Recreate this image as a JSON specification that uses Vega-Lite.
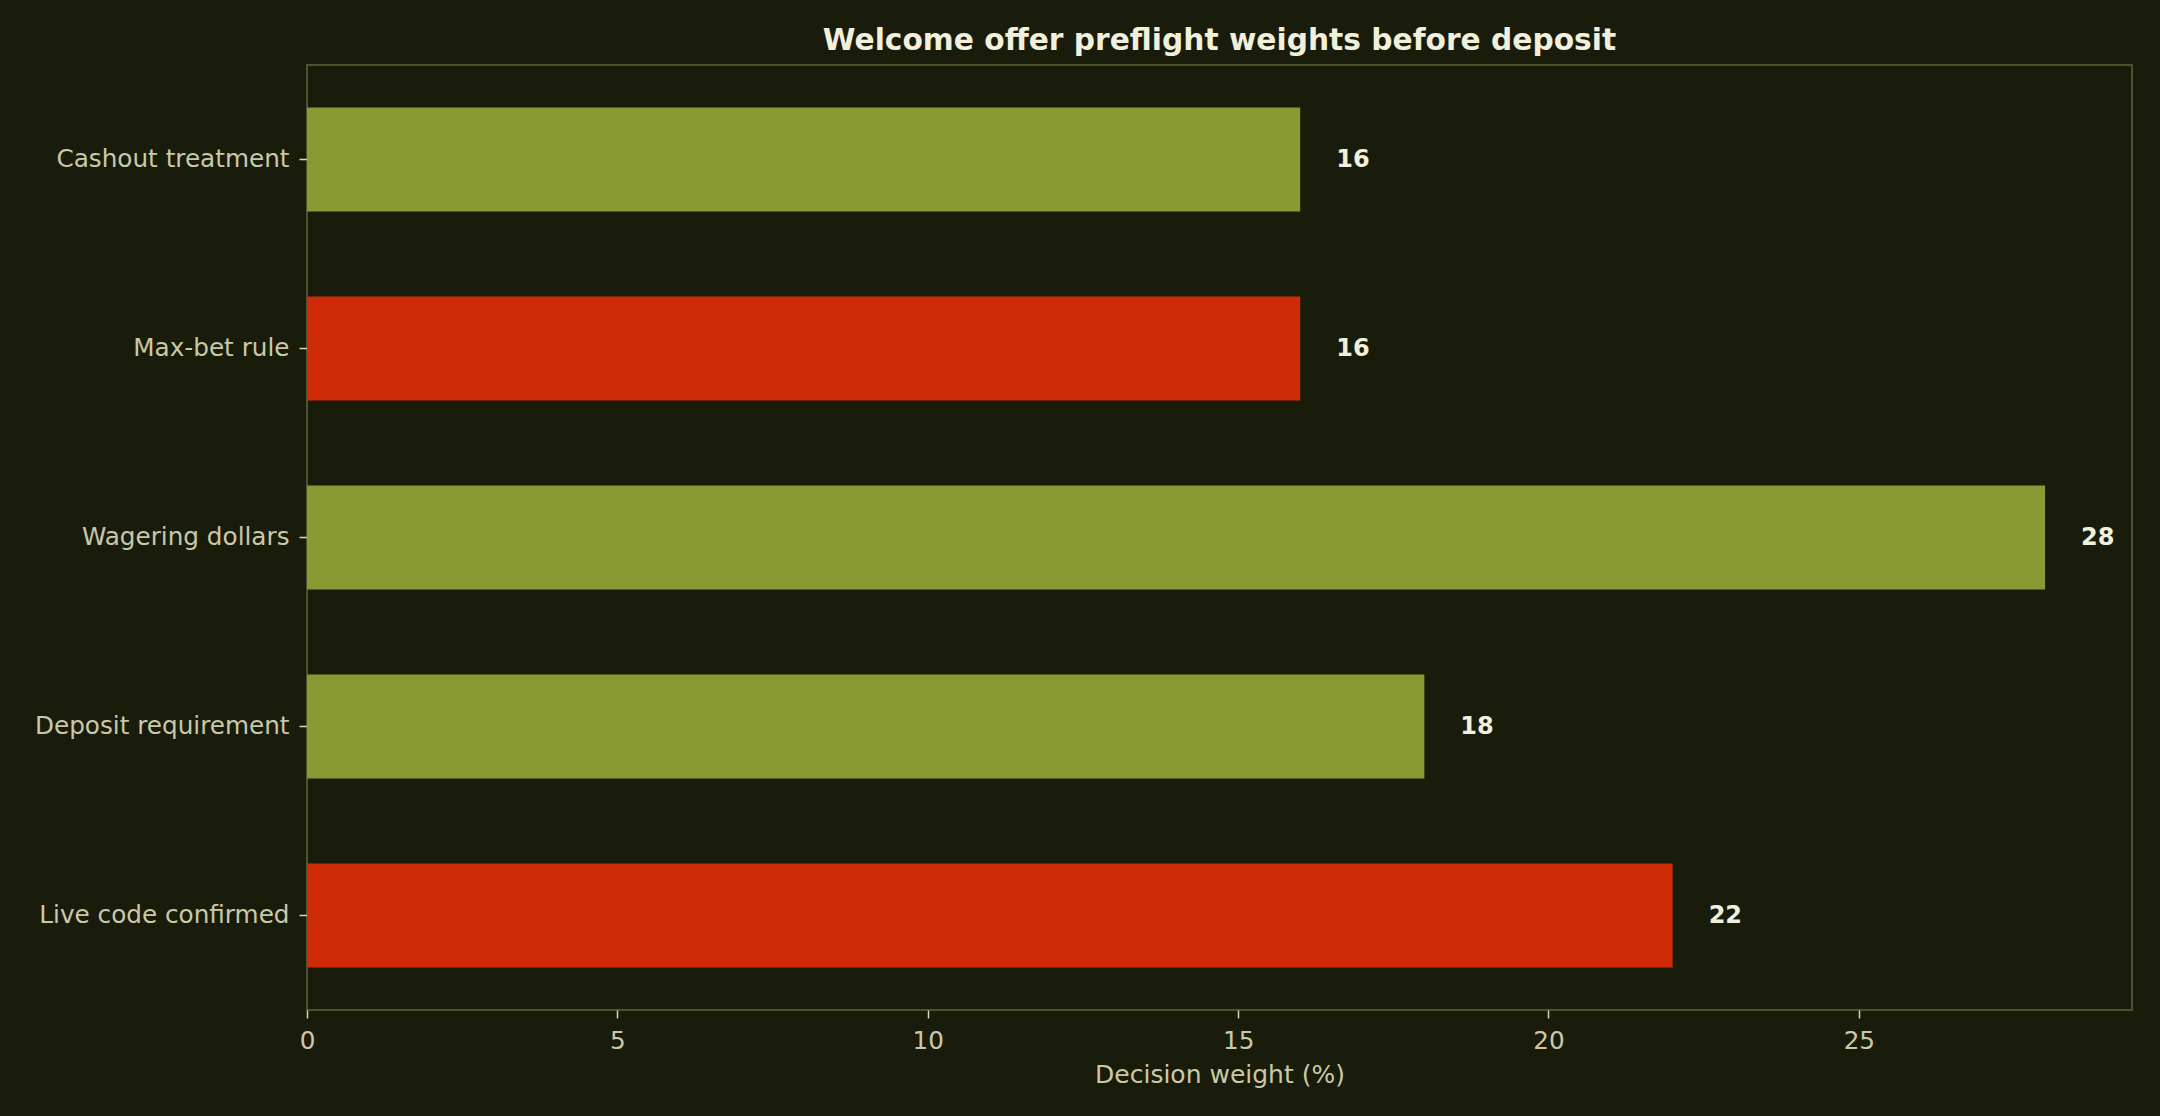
{
  "$schema": "https://vega.github.io/schema/vega-lite/v6.json",
  "autosize": "none",
  "width": 1825,
  "height": 945,
  "padding": {"left": 307, "top": 65, "right": 28, "bottom": 106},
  "background": "#1a1c0b",
  "config": {
    "font": "DejaVu Sans",
    "view": {"stroke": "#4d5330", "strokeWidth": 2},
    "axis": {
      "domain": false,
      "grid": false,
      "tickColor": "#d6d6b8",
      "tickWidth": 1.5,
      "tickSize": 8,
      "labelColor": "#c9c9aa",
      "labelFont": "DejaVu Sans",
      "labelFontSize": 24.7,
      "labelLimit": 400,
      "titleColor": "#c9c9aa",
      "titleFont": "DejaVu Sans",
      "titleFontSize": 25,
      "titleFontWeight": "normal"
    }
  },
  "title": {
    "text": "Welcome offer preflight weights before deposit",
    "color": "#f0f0dc",
    "font": "DejaVu Sans",
    "fontSize": 29.7,
    "fontWeight": "bold",
    "anchor": "middle",
    "offset": 8
  },
  "data": {
    "values": [
      {"factor": "Cashout treatment", "weight": 16, "flag": "ok"},
      {"factor": "Max-bet rule", "weight": 16, "flag": "risk"},
      {"factor": "Wagering dollars", "weight": 28, "flag": "ok"},
      {"factor": "Deposit requirement", "weight": 18, "flag": "ok"},
      {"factor": "Live code confirmed", "weight": 22, "flag": "risk"}
    ]
  },
  "encoding": {
    "y": {
      "field": "factor",
      "type": "nominal",
      "sort": null,
      "title": null,
      "scale": {"paddingInner": 0.45, "paddingOuter": 0.225},
      "axis": {"labelPadding": 10}
    },
    "x": {
      "field": "weight",
      "type": "quantitative",
      "title": "Decision weight (%)",
      "scale": {"domain": [0, 29.4], "nice": false, "zero": true},
      "axis": {"values": [0, 5, 10, 15, 20, 25], "labelFlush": false, "labelPadding": 10, "titlePadding": 10}
    }
  },
  "layer": [
    {
      "mark": {"type": "bar"},
      "encoding": {
        "color": {
          "field": "flag",
          "type": "nominal",
          "scale": {"domain": ["ok", "risk"], "range": ["#8a9a33", "#cf2a08"]},
          "legend": null
        }
      }
    },
    {
      "mark": {
        "type": "text",
        "align": "left",
        "baseline": "middle",
        "dx": 36,
        "dy": 0,
        "fontSize": 24,
        "fontWeight": "bold",
        "color": "#f0f0dc",
        "font": "DejaVu Sans"
      },
      "encoding": {
        "text": {"field": "weight", "type": "quantitative"}
      }
    }
  ]
}
